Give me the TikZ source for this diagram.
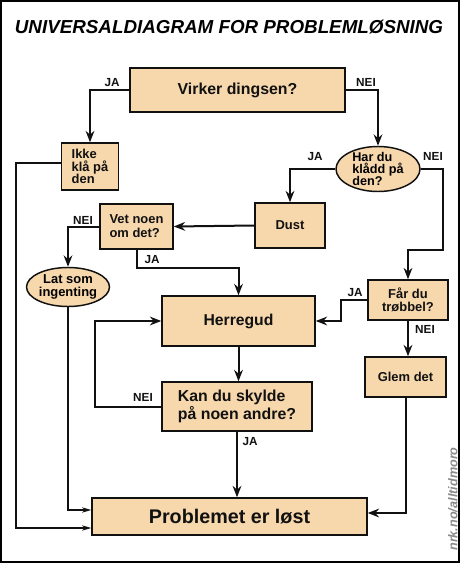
\documentclass[tikz,border=0pt]{standalone}
\usepackage{fontspec}
\setmainfont{Liberation Sans}
\usetikzlibrary{arrows.meta,positioning,calc,shapes.geometric}
\definecolor{BoxTan}{HTML}{F7D7AC}
\definecolor{Ink}{HTML}{111111}
\definecolor{StampGray}{HTML}{8A8A8A}

\tikzset{
  boxsize/.style 2 args={minimum width=#1*0.75pt,minimum height=#2*0.75pt},
  box/.style={draw=Ink,line width=1.1pt,fill=BoxTan,inner sep=0pt,
    font=\bfseries\fontsize{9.7}{9.6}\selectfont,text=Ink},
  oval/.style={ellipse,draw=Ink,line width=1.1pt,fill=BoxTan,inner sep=0pt},
  flow/.style={draw=Ink,line width=1.5pt,-{Stealth[length=8.5pt,width=6.5pt]}},
  thinflow/.style={draw=Ink,line width=0.8pt,-{Stealth[length=7pt,width=4pt]}},
  lbl/.style={font=\bfseries\fontsize{8.8}{10}\selectfont,text=Ink}
}

\begin{document}
\begin{tikzpicture}[x=0.75pt,y=-0.75pt]
  \useasboundingbox (0,0) rectangle (460,563);
  \fill[white] (0,0) rectangle (460,563);
  \draw[line width=1.2pt] (0.8,0.8) rectangle (459.2,562.2);

  \node[font=\bfseries\itshape\fontsize{14.1}{16}\selectfont] (title) at (229,27)
    {UNIVERSALDIAGRAM FOR PROBLEMLØSNING};

  \node[box,boxsize={215}{44},font=\bfseries\fontsize{11.9}{14}\selectfont]
    (virker) at (237.5,90) {Virker dingsen?};
  \node[box,boxsize={57}{47},align=left] (ikke) at (90,166.5) {Ikke\\klå på\\den};
  \node[oval,boxsize={84}{45}] (har) at (378,169) {};
  \node[align=left,font=\bfseries\fontsize{9.5}{9.3}\selectfont] (hartext) at (har)
    {Har du\\klådd på\\den?};
  \node[box,boxsize={70}{45}] (dust) at (290,225.5) {Dust};
  \node[box,boxsize={73}{45},align=left,font=\bfseries\fontsize{9.7}{10.5}\selectfont]
    (vet) at (136.5,226.5) {Vet noen\\om det?};
  \node[oval,boxsize={83}{39}] (lat) at (68,287) {};
  \node[align=center,font=\bfseries\fontsize{9.7}{9.4}\selectfont] (lattext) at (lat)
    {Lat som\\ingenting};
  \node[box,boxsize={153}{50},font=\bfseries\fontsize{11.8}{14}\selectfont]
    (herregud) at (238.5,321) {Herregud};
  \node[box,boxsize={80}{40},align=center] (far) at (408,300) {Får du\\trøbbel?};
  \node[box,boxsize={81}{40}] (glem) at (405.5,377) {Glem det};
  \node[box,boxsize={150}{49},align=left,font=\bfseries\fontsize{11.9}{13.8}\selectfont]
    (kan) at (237,406.5) {Kan du skylde\\på noen andre?};
  \node[box,boxsize={275}{37},font=\bfseries\fontsize{14.8}{17}\selectfont]
    (problem) at (229.5,516.5) {Problemet er løst};

  \coordinate (bendA) at (443,250);
  \coordinate (bendB) at (136.5,268);
  \coordinate (bendC) at (16,163);
  \coordinate (bendD) at (341,300);
  \coordinate (bendE) at (95,406.5);

  \draw[flow] (virker.west) -| (ikke.north);
  \draw[flow] (virker.east) -| (har.north);
  \draw[flow] (har.west) -| (dust.north);
  \draw[flow] (har.east) -| (bendA) -| (far.north);
  \draw[flow] (dust.west) -- (vet.east);
  \draw[flow] (vet.west) -| (lat.north);
  \draw[flow] (vet.south) -- (bendB) -| (herregud.north);
  \draw[flow] (far.west) -- (bendD) |- (herregud.east);
  \draw[flow] (far.south) -- (far.south |- glem.north);
  \draw[flow] (glem.south) |- ($(problem.east)+(0,-3.5)$);
  \draw[flow] (herregud.south) -- (herregud.south |- kan.north);
  \draw[flow] (kan.west) -- (bendE) |- (herregud.west);
  \draw[flow] (kan.south) -- (kan.south |- problem.north);
  \draw[thinflow] (lat.south) |- ($(problem.west)+(0,-6.5)$);
  \draw[thinflow] (ikke.west |- bendC) -- (bendC) |- ($(problem.west)+(0,11.5)$);

  \node[lbl] (jaA) at (112,83) {JA};
  \node[lbl] (neiA) at (366,82) {NEI};
  \node[lbl] (jaB) at (315,157) {JA};
  \node[lbl] (neiB) at (433,156) {NEI};
  \node[lbl] (neiC) at (83,220) {NEI};
  \node[lbl] (jaC) at (152,260) {JA};
  \node[lbl] (jaD) at (355,293) {JA};
  \node[lbl] (neiD) at (425,329) {NEI};
  \node[lbl] (neiE) at (143,397) {NEI};
  \node[lbl] (jaE) at (250,442) {JA};

  \node[rotate=90,font=\bfseries\itshape\fontsize{9.5}{11}\selectfont,text=StampGray]
    (stamp) at (453,499) {nrk.no/alltidmoro};
\end{tikzpicture}
\end{document}
